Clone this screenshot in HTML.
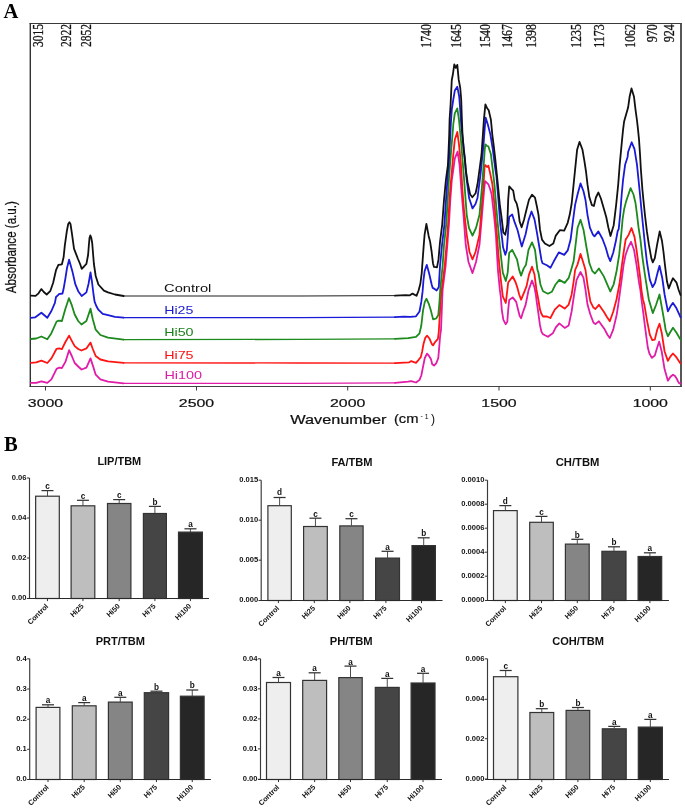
<!DOCTYPE html><html><head><meta charset="utf-8"><title>FTIR figure</title><style>html,body{margin:0;padding:0;background:#fff;overflow:hidden}svg{display:block;will-change:transform}</style></head><body>
<svg width="685" height="809" viewBox="0 0 685 809">
<rect width="685" height="809" fill="#fff"/>
<text x="3.4" y="18.1" font-size="20.6" font-weight="bold" text-anchor="start" fill="#000" font-family='"Liberation Serif", serif'>A</text>
<line x1="29.6" y1="23.5" x2="681.9" y2="23.5" stroke="#3a3a3a" stroke-width="1.1"/>
<line x1="29.6" y1="386.5" x2="681.9" y2="386.5" stroke="#444" stroke-width="1.15"/>
<line x1="30.3" y1="23" x2="30.3" y2="387" stroke="#333" stroke-width="1.4"/>
<line x1="681" y1="23" x2="681" y2="387.1" stroke="#454545" stroke-width="1.8"/>
<text x="0" y="0" font-size="15.4" font-weight="normal" text-anchor="start" fill="#111" font-family='"Liberation Serif", serif' stroke="#111" stroke-width="0.3" textLength="22.9" lengthAdjust="spacingAndGlyphs" transform="translate(43.3,47.0) rotate(-90)">3015</text>
<text x="0" y="0" font-size="15.4" font-weight="normal" text-anchor="start" fill="#111" font-family='"Liberation Serif", serif' stroke="#111" stroke-width="0.3" textLength="22.9" lengthAdjust="spacingAndGlyphs" transform="translate(70.9,47.0) rotate(-90)">2922</text>
<text x="0" y="0" font-size="15.4" font-weight="normal" text-anchor="start" fill="#111" font-family='"Liberation Serif", serif' stroke="#111" stroke-width="0.3" textLength="22.9" lengthAdjust="spacingAndGlyphs" transform="translate(91.3,47.0) rotate(-90)">2852</text>
<text x="0" y="0" font-size="15.4" font-weight="normal" text-anchor="start" fill="#111" font-family='"Liberation Serif", serif' stroke="#111" stroke-width="0.3" textLength="23.5" lengthAdjust="spacingAndGlyphs" transform="translate(430.6,47.7) rotate(-90)">1740</text>
<text x="0" y="0" font-size="15.4" font-weight="normal" text-anchor="start" fill="#111" font-family='"Liberation Serif", serif' stroke="#111" stroke-width="0.3" textLength="23.5" lengthAdjust="spacingAndGlyphs" transform="translate(460.8,47.7) rotate(-90)">1645</text>
<text x="0" y="0" font-size="15.4" font-weight="normal" text-anchor="start" fill="#111" font-family='"Liberation Serif", serif' stroke="#111" stroke-width="0.3" textLength="23.5" lengthAdjust="spacingAndGlyphs" transform="translate(490.4,47.7) rotate(-90)">1540</text>
<text x="0" y="0" font-size="15.4" font-weight="normal" text-anchor="start" fill="#111" font-family='"Liberation Serif", serif' stroke="#111" stroke-width="0.3" textLength="23.5" lengthAdjust="spacingAndGlyphs" transform="translate(512.3,47.7) rotate(-90)">1467</text>
<text x="0" y="0" font-size="15.4" font-weight="normal" text-anchor="start" fill="#111" font-family='"Liberation Serif", serif' stroke="#111" stroke-width="0.3" textLength="23.5" lengthAdjust="spacingAndGlyphs" transform="translate(536.4,47.7) rotate(-90)">1398</text>
<text x="0" y="0" font-size="15.4" font-weight="normal" text-anchor="start" fill="#111" font-family='"Liberation Serif", serif' stroke="#111" stroke-width="0.3" textLength="23.5" lengthAdjust="spacingAndGlyphs" transform="translate(580.9,47.7) rotate(-90)">1235</text>
<text x="0" y="0" font-size="15.4" font-weight="normal" text-anchor="start" fill="#111" font-family='"Liberation Serif", serif' stroke="#111" stroke-width="0.3" textLength="23.5" lengthAdjust="spacingAndGlyphs" transform="translate(604.1,47.7) rotate(-90)">1173</text>
<text x="0" y="0" font-size="15.4" font-weight="normal" text-anchor="start" fill="#111" font-family='"Liberation Serif", serif' stroke="#111" stroke-width="0.3" textLength="23.5" lengthAdjust="spacingAndGlyphs" transform="translate(634.8,47.7) rotate(-90)">1062</text>
<text x="0" y="0" font-size="15.4" font-weight="normal" text-anchor="start" fill="#111" font-family='"Liberation Serif", serif' stroke="#111" stroke-width="0.3" textLength="18.1" lengthAdjust="spacingAndGlyphs" transform="translate(656.7,42.3) rotate(-90)">970</text>
<text x="0" y="0" font-size="15.4" font-weight="normal" text-anchor="start" fill="#111" font-family='"Liberation Serif", serif' stroke="#111" stroke-width="0.3" textLength="18.1" lengthAdjust="spacingAndGlyphs" transform="translate(673.5,42.3) rotate(-90)">924</text>
<text x="0" y="0" font-size="14.2" font-weight="normal" text-anchor="start" fill="#111" font-family='"Liberation Sans", sans-serif' stroke="#111" stroke-width="0.25" textLength="92" lengthAdjust="spacingAndGlyphs" transform="translate(16.3,293.2) rotate(-90)">Absorbance (a.u.)</text>
<line x1="45.5" y1="386" x2="45.5" y2="390.5" stroke="#3a3a3a" stroke-width="1"/>
<text x="45.5" y="406.8" font-size="11.6" font-weight="normal" text-anchor="middle" fill="#111" font-family='"Liberation Sans", sans-serif' stroke="#111" stroke-width="0.2" textLength="35.3" lengthAdjust="spacingAndGlyphs">3000</text>
<line x1="196.5" y1="386" x2="196.5" y2="390.5" stroke="#3a3a3a" stroke-width="1"/>
<text x="196.5" y="406.8" font-size="11.6" font-weight="normal" text-anchor="middle" fill="#111" font-family='"Liberation Sans", sans-serif' stroke="#111" stroke-width="0.2" textLength="35.3" lengthAdjust="spacingAndGlyphs">2500</text>
<line x1="347.7" y1="386" x2="347.7" y2="390.5" stroke="#3a3a3a" stroke-width="1"/>
<text x="347.7" y="406.8" font-size="11.6" font-weight="normal" text-anchor="middle" fill="#111" font-family='"Liberation Sans", sans-serif' stroke="#111" stroke-width="0.2" textLength="35.3" lengthAdjust="spacingAndGlyphs">2000</text>
<line x1="499" y1="386" x2="499" y2="390.5" stroke="#3a3a3a" stroke-width="1"/>
<text x="499" y="406.8" font-size="11.6" font-weight="normal" text-anchor="middle" fill="#111" font-family='"Liberation Sans", sans-serif' stroke="#111" stroke-width="0.2" textLength="35.3" lengthAdjust="spacingAndGlyphs">1500</text>
<line x1="650.3" y1="386" x2="650.3" y2="390.5" stroke="#3a3a3a" stroke-width="1"/>
<text x="650.3" y="406.8" font-size="11.6" font-weight="normal" text-anchor="middle" fill="#111" font-family='"Liberation Sans", sans-serif' stroke="#111" stroke-width="0.2" textLength="35.3" lengthAdjust="spacingAndGlyphs">1000</text>
<text x="290.2" y="423.6" font-size="12.2" font-weight="normal" text-anchor="start" fill="#111" font-family='"Liberation Sans", sans-serif' stroke="#111" stroke-width="0.2" textLength="96.2" lengthAdjust="spacingAndGlyphs">Wavenumber</text>
<text x="393.9" y="423.3" font-size="12.2" font-weight="normal" text-anchor="start" fill="#111" font-family='"Liberation Sans", sans-serif' stroke="#111" stroke-width="0.2" textLength="24.6" lengthAdjust="spacingAndGlyphs">(cm</text>
<text x="420.6" y="417.8" font-size="7" font-weight="normal" text-anchor="start" fill="#111" font-family='"Liberation Sans", sans-serif'>-</text>
<text x="424.8" y="419.2" font-size="6.8" font-weight="normal" text-anchor="start" fill="#111" font-family='"Liberation Sans", sans-serif'>1</text>
<text x="431.0" y="423.3" font-size="12.2" font-weight="normal" text-anchor="start" fill="#111" font-family='"Liberation Sans", sans-serif'>)</text>
<polyline points="123.6,383.3 300.0,383.3 395.0,382.8" fill="none" stroke="#e01ca8" stroke-width="1.3" stroke-linejoin="round" stroke-linecap="round"/>
<polyline points="30.9,382.9 36.2,382.9 41.4,381.4 47.3,382.9 51.4,379.4 56.6,368.9 58.9,367.7 61.9,368.0 65.4,361.9 69.1,350.2 71.8,356.0 74.7,363.0 78.2,366.5 81.5,369.5 86.4,367.7 90.5,358.4 92.8,365.4 95.7,374.7 100.4,379.4 108.0,381.7 123.6,383.3" fill="none" stroke="#e01ca8" stroke-width="1.8" stroke-linejoin="round" stroke-linecap="round"/>
<polyline points="395.0,382.8 408.1,381.7 411.2,381.2 416.0,382.5 419.5,379.9 421.3,375.5 423.0,366.8 424.8,358.0 427.0,353.6 428.7,355.4 430.9,358.9 432.2,364.2 434.0,365.5 436.2,363.3 438.3,358.0 439.2,347.5 440.1,336.1 441.0,330.0 442.2,300.0 442.6,290.0 445.6,266.0 447.3,245.0 448.9,224.6 450.3,200.0 451.8,180.0 453.3,169.5 454.8,158.6 457.6,151.7 459.5,164.4 461.4,190.0 463.5,215.0 465.7,244.5 468.5,262.0 472.5,273.1 476.0,262.0 479.5,244.5 482.0,215.0 484.1,190.0 485.1,181.2 485.9,181.9 488.4,184.3 490.4,190.0 491.6,194.2 494.0,215.0 495.9,235.0 497.9,269.6 499.8,289.4 500.8,297.0 501.8,309.8 503.3,319.7 505.6,324.2 507.3,321.7 508.2,309.8 509.2,300.0 512.7,297.4 516.2,301.9 518.1,309.8 519.6,315.8 521.1,318.2 523.1,311.8 525.6,304.9 527.0,298.0 528.5,290.4 532.0,280.5 534.5,287.4 535.9,295.0 536.6,301.0 537.9,309.8 539.9,324.7 541.4,331.6 543.0,334.3 547.9,336.8 552.8,333.3 555.8,327.4 559.3,323.4 564.7,327.9 568.7,325.4 571.6,311.5 574.1,294.7 576.6,279.9 580.5,272.0 583.5,277.9 585.5,289.8 587.5,304.6 590.2,314.0 593.4,322.5 595.4,324.1 598.9,321.2 604.8,329.6 607.3,334.5 609.8,338.0 613.2,329.6 616.7,314.7 618.2,305.0 619.7,294.2 621.7,279.4 623.6,264.6 625.6,254.7 628.1,247.7 631.0,241.8 634.0,249.7 636.5,264.6 639.0,282.4 640.4,290.0 641.4,299.2 642.9,309.8 645.4,329.6 647.8,347.5 649.3,353.3 651.8,357.9 654.8,355.5 657.2,347.5 659.2,341.6 661.7,351.5 664.6,369.3 667.9,380.7 670.5,376.8 673.0,374.7 675.0,376.0 676.6,378.4 678.1,381.5 679.2,383.3 680.6,383.5" fill="none" stroke="#e01ca8" stroke-width="1.8" stroke-linejoin="round" stroke-linecap="round"/>
<polyline points="123.6,362.9 300.0,363.0 395.0,363.1" fill="none" stroke="#ff1414" stroke-width="1.3" stroke-linejoin="round" stroke-linecap="round"/>
<polyline points="30.9,362.8 36.2,362.4 41.4,360.7 47.3,363.0 51.4,358.4 56.6,348.8 58.9,348.4 61.9,349.2 65.4,342.0 69.1,335.6 71.8,340.8 74.7,346.1 78.2,349.0 81.5,350.5 86.4,348.4 90.5,342.6 92.8,349.0 95.7,356.0 100.4,359.5 108.0,361.3 123.6,362.9" fill="none" stroke="#ff1414" stroke-width="1.8" stroke-linejoin="round" stroke-linecap="round"/>
<polyline points="395.0,363.1 409.0,362.4 411.2,361.1 416.0,362.8 418.6,359.8 420.8,357.1 422.1,351.9 423.5,344.0 425.2,337.9 427.2,335.7 429.6,338.8 431.8,344.0 433.1,345.3 435.3,341.8 437.9,338.8 438.8,331.8 440.7,300.0 441.7,290.0 444.7,266.0 446.5,245.0 448.1,224.6 449.5,200.0 450.6,185.0 451.8,172.0 453.3,154.7 454.8,139.8 457.3,131.9 459.0,144.6 460.9,164.4 462.4,190.0 464.0,210.0 466.7,234.6 469.5,252.0 472.5,259.3 475.5,252.0 479.5,234.6 481.5,210.0 483.2,190.0 484.7,165.3 485.4,165.2 487.0,167.0 488.4,165.6 490.4,174.5 492.4,184.3 494.5,205.0 496.9,235.0 498.8,259.7 500.8,279.5 502.8,296.3 505.8,303.0 508.2,282.5 512.7,276.5 515.7,282.5 517.6,288.4 519.1,294.3 521.1,299.7 524.1,292.4 526.5,286.4 529.0,274.6 532.0,266.7 534.5,274.6 536.4,289.4 538.4,300.0 540.0,309.6 541.4,313.8 543.0,316.5 546.9,316.5 550.4,318.0 554.8,309.6 559.3,305.1 564.7,308.6 568.7,304.6 571.6,294.7 573.6,281.9 575.1,270.0 577.6,264.3 580.5,253.9 583.5,263.3 585.5,270.0 587.5,284.8 590.4,301.7 593.4,307.6 595.4,309.0 598.9,304.8 603.8,311.8 606.8,316.7 609.8,321.2 613.2,311.8 616.5,299.5 618.7,288.0 619.7,282.4 621.7,266.5 623.6,252.7 625.6,239.8 628.6,234.9 631.5,228.0 634.5,236.9 636.5,249.7 638.5,264.6 640.4,279.4 641.4,290.0 642.9,299.2 644.4,304.8 646.9,319.8 649.8,334.7 652.3,340.1 654.8,339.6 657.2,329.8 659.5,323.8 661.7,332.7 664.6,351.5 667.9,360.9 670.5,356.4 673.0,353.5 676.5,357.4 680.5,363.4" fill="none" stroke="#ff1414" stroke-width="1.8" stroke-linejoin="round" stroke-linecap="round"/>
<polyline points="123.6,339.7 300.0,339.4 395.0,338.8" fill="none" stroke="#1c8a1c" stroke-width="1.3" stroke-linejoin="round" stroke-linecap="round"/>
<polyline points="30.9,339.0 36.2,338.5 41.4,336.5 47.3,339.3 51.4,333.2 56.6,321.5 58.9,320.6 61.9,321.0 65.4,308.7 68.9,298.2 71.8,305.2 74.7,314.5 78.2,321.0 81.5,324.5 86.4,321.0 90.5,308.7 92.8,319.2 95.7,329.7 100.4,335.0 108.0,337.6 123.6,339.7" fill="none" stroke="#1c8a1c" stroke-width="1.8" stroke-linejoin="round" stroke-linecap="round"/>
<polyline points="395.0,338.8 408.1,338.2 416.0,336.9 419.5,333.4 421.3,325.5 423.0,310.6 424.8,301.9 426.5,298.8 428.7,303.6 430.9,310.6 433.1,319.4 436.2,318.5 438.3,315.0 439.2,305.0 439.6,300.0 440.2,290.0 442.6,266.0 444.0,245.0 446.2,224.6 447.7,200.0 448.9,180.0 450.0,165.0 451.2,150.0 452.5,135.0 453.3,124.2 454.8,113.4 457.3,108.4 459.0,119.9 460.9,139.7 462.9,164.4 464.9,190.0 466.7,214.8 469.0,228.0 472.5,235.6 476.0,228.0 479.5,214.8 481.7,190.0 484.1,159.4 484.7,150.0 485.4,144.5 487.0,146.0 488.4,146.4 490.9,154.3 492.8,170.2 494.5,185.0 496.5,210.0 498.8,235.0 500.8,254.8 502.8,272.6 505.8,281.0 507.7,272.6 509.2,252.8 512.2,249.8 514.7,254.8 517.1,259.7 519.1,269.6 521.1,275.6 523.6,268.6 526.0,264.7 528.5,249.8 532.0,242.4 535.0,249.8 537.4,269.6 538.5,273.0 540.5,284.8 543.0,291.3 547.9,293.7 551.8,291.8 555.3,284.8 559.3,279.9 564.7,282.9 568.7,277.9 571.1,270.0 573.6,261.3 575.6,244.5 577.6,227.7 580.5,219.8 583.5,229.7 586.5,247.5 589.4,263.3 592.4,271.2 595.0,273.5 598.9,268.5 603.8,276.4 606.8,283.4 610.3,291.5 613.7,284.3 616.7,270.5 619.2,254.7 621.2,234.9 622.6,219.2 624.1,209.3 626.1,201.4 628.1,195.5 630.6,188.1 633.5,194.5 635.5,203.0 637.0,214.3 638.5,227.2 640.4,239.3 642.4,257.0 644.9,274.7 648.8,299.4 652.8,313.1 656.0,305.0 659.5,294.5 662.2,309.3 664.6,323.1 665.6,329.8 667.9,336.2 670.5,331.7 673.0,327.8 676.5,332.7 680.5,339.6" fill="none" stroke="#1c8a1c" stroke-width="1.8" stroke-linejoin="round" stroke-linecap="round"/>
<polyline points="123.6,317.7 300.0,317.6 395.0,317.2" fill="none" stroke="#1a1ad8" stroke-width="1.3" stroke-linejoin="round" stroke-linecap="round"/>
<polyline points="30.9,317.8 35.0,317.4 41.4,312.8 47.3,317.8 51.4,311.0 54.9,302.9 56.0,297.0 57.8,295.3 58.9,294.1 62.5,293.5 63.6,288.8 65.4,278.4 67.0,268.0 69.1,259.7 72.4,271.4 75.3,284.2 78.2,291.2 81.7,296.0 86.4,292.4 88.5,284.0 90.5,272.5 92.0,282.0 93.4,293.5 94.6,301.7 96.3,306.0 98.1,309.3 102.7,313.9 108.0,315.1 115.0,316.8 123.6,317.7" fill="none" stroke="#1a1ad8" stroke-width="1.8" stroke-linejoin="round" stroke-linecap="round"/>
<polyline points="395.0,317.2 403.8,316.6 410.3,316.8 416.0,316.3 419.5,311.5 421.3,301.9 422.6,291.4 423.5,280.0 424.6,271.3 426.8,264.9 429.1,273.3 431.6,284.2 432.7,287.9 434.0,288.6 436.6,290.5 438.8,287.0 440.0,266.0 442.0,245.0 444.4,224.6 446.0,200.0 447.4,180.0 449.0,160.0 450.3,135.0 450.8,124.2 451.8,109.4 453.3,99.5 454.8,90.6 457.3,86.7 459.2,96.5 460.2,109.4 461.2,124.2 462.9,139.7 464.9,159.4 466.7,180.0 469.1,198.0 472.5,208.4 475.5,204.0 477.5,198.0 480.5,174.5 483.5,144.8 485.0,125.0 485.7,117.7 487.9,124.7 490.4,134.6 492.8,149.4 495.3,169.2 496.4,176.0 498.4,199.6 500.3,224.3 502.3,240.2 503.0,247.0 505.3,254.8 506.8,250.0 507.7,238.0 508.5,225.0 509.2,216.9 512.2,214.5 514.7,222.4 517.6,230.3 520.1,240.2 521.8,246.5 525.6,234.2 528.5,220.4 531.5,211.5 534.5,219.4 536.9,232.3 538.9,244.5 541.4,259.7 542.5,263.3 546.9,265.3 550.4,267.8 553.8,261.3 558.8,252.4 564.2,254.9 567.7,250.4 570.6,239.6 573.1,219.8 575.1,204.9 577.6,194.3 580.5,183.4 583.5,191.3 585.5,200.0 587.5,214.8 589.9,227.7 592.9,234.6 594.5,236.4 598.4,231.4 602.4,238.8 605.8,247.7 608.3,256.7 610.3,261.1 613.2,252.7 615.7,241.8 617.7,231.0 618.7,229.1 620.2,214.3 621.7,194.5 623.1,179.7 625.1,164.8 627.6,156.9 628.1,152.0 629.1,149.2 631.7,142.3 634.5,149.2 637.0,164.8 638.5,179.7 640.0,194.5 641.4,209.3 642.9,224.5 644.9,244.2 646.9,262.0 649.8,279.6 652.6,287.1 655.0,283.0 657.5,273.0 659.5,265.8 662.2,277.7 664.6,294.5 667.9,311.3 670.5,306.3 673.0,302.9 676.5,308.3 680.5,317.2" fill="none" stroke="#1a1ad8" stroke-width="1.8" stroke-linejoin="round" stroke-linecap="round"/>
<polyline points="123.6,296.0 200.0,296.0 300.0,296.0 395.0,295.6" fill="none" stroke="#111111" stroke-width="0.95" stroke-linejoin="round" stroke-linecap="round"/>
<polyline points="30.9,295.6 35.6,295.9 38.5,293.3 41.4,289.1 43.8,292.0 46.7,294.5 50.2,291.2 53.1,283.0 56.0,270.2 58.4,264.9 61.9,264.3 63.6,257.3 64.8,245.7 66.8,231.3 68.2,224.0 69.4,222.3 70.5,224.0 71.9,233.4 74.0,248.7 76.0,253.8 78.0,259.0 80.1,264.0 81.7,268.8 84.0,266.5 86.4,263.8 88.1,255.0 88.8,246.0 89.5,238.0 90.3,235.4 91.2,237.5 92.2,243.0 93.9,264.0 95.7,276.0 98.4,284.5 103.9,290.6 108.0,292.4 115.0,294.5 123.6,296.0" fill="none" stroke="#111111" stroke-width="1.8" stroke-linejoin="round" stroke-linecap="round"/>
<polyline points="395.0,295.6 405.5,295.1 409.9,295.3 412.5,293.6 416.5,295.8 418.6,290.5 420.4,283.5 421.7,273.3 422.7,259.4 423.7,245.6 424.6,234.7 426.4,223.8 428.6,235.7 430.1,241.6 431.6,251.5 433.0,263.4 434.0,266.9 437.0,267.4 438.5,259.4 440.0,242.0 442.2,224.6 444.0,200.0 445.9,180.0 447.9,165.0 448.6,150.0 449.2,135.0 449.6,119.3 450.6,104.5 451.3,89.6 451.8,79.7 452.8,74.8 454.3,64.4 455.8,67.9 457.3,64.9 458.7,79.7 460.2,87.6 461.2,99.5 461.7,114.3 462.5,135.0 463.7,150.0 464.9,159.4 465.7,169.5 467.6,182.4 470.1,194.2 472.3,197.2 475.6,193.2 477.5,184.3 479.5,169.5 481.5,154.7 482.9,134.6 483.9,119.7 485.4,104.4 487.0,108.0 488.7,110.3 490.9,119.7 492.3,134.6 493.8,146.4 495.3,159.3 496.8,174.1 497.9,184.8 499.8,204.6 501.8,219.4 503.3,232.3 505.3,234.7 507.3,224.3 508.2,199.6 509.2,186.3 511.2,188.7 513.2,190.7 514.7,199.6 516.7,203.6 518.1,209.5 519.6,221.4 521.6,227.3 524.1,219.4 526.5,209.5 529.0,199.6 532.0,194.7 535.0,197.6 536.9,206.5 538.5,214.8 540.0,229.7 542.0,239.6 544.9,243.5 549.4,246.0 553.3,243.5 555.8,235.6 559.8,230.2 564.2,230.7 567.7,222.8 569.7,214.8 571.6,204.0 572.6,194.3 574.1,179.5 575.6,164.6 577.1,149.8 579.5,141.9 582.5,149.8 584.5,161.7 586.0,171.5 587.5,184.4 589.4,197.3 591.9,205.2 593.9,206.0 595.9,197.5 598.4,192.5 600.9,198.5 603.8,208.4 606.3,217.3 608.3,227.2 610.5,236.0 613.7,225.2 616.2,204.4 618.2,184.6 619.7,164.8 620.7,154.1 622.1,139.3 623.1,129.4 624.1,121.5 626.1,114.6 628.1,107.6 629.6,96.8 631.5,88.4 634.0,96.8 635.5,109.6 637.0,120.5 638.0,129.4 639.0,139.3 640.0,154.1 640.9,169.8 642.4,189.6 643.4,199.8 644.9,214.6 646.9,231.4 648.8,244.2 651.3,258.1 652.8,262.4 654.8,258.1 657.2,244.2 659.7,231.4 662.0,241.0 663.5,252.0 664.6,262.0 667.0,281.6 668.8,288.5 671.0,282.6 673.0,278.2 676.5,282.6 678.5,289.5 680.5,295.0" fill="none" stroke="#111111" stroke-width="1.8" stroke-linejoin="round" stroke-linecap="round"/>
<text x="164.1" y="292.3" font-size="10.6" font-weight="normal" text-anchor="start" fill="#111" font-family='"Liberation Sans", sans-serif' textLength="47.3" lengthAdjust="spacingAndGlyphs">Control</text>
<text x="164.2" y="313.8" font-size="10.6" font-weight="normal" text-anchor="start" fill="#1a1ad0" font-family='"Liberation Sans", sans-serif' textLength="29.2" lengthAdjust="spacingAndGlyphs">Hi25</text>
<text x="164.2" y="335.7" font-size="10.6" font-weight="normal" text-anchor="start" fill="#1a7f1a" font-family='"Liberation Sans", sans-serif' textLength="29.4" lengthAdjust="spacingAndGlyphs">Hi50</text>
<text x="164.2" y="358.7" font-size="10.6" font-weight="normal" text-anchor="start" fill="#ff1010" font-family='"Liberation Sans", sans-serif' textLength="29.4" lengthAdjust="spacingAndGlyphs">Hi75</text>
<text x="164.4" y="379" font-size="10.6" font-weight="normal" text-anchor="start" fill="#dc1ca5" font-family='"Liberation Sans", sans-serif' textLength="37.7" lengthAdjust="spacingAndGlyphs">Hi100</text>
<text x="4.0" y="451.3" font-size="20.6" font-weight="bold" text-anchor="start" fill="#000" font-family='"Liberation Serif", serif'>B</text>
<text x="97.4" y="464.6" font-size="11" font-weight="bold" text-anchor="start" fill="#111" font-family='"Liberation Sans", sans-serif' textLength="43.8" lengthAdjust="spacingAndGlyphs">LIP/TBM</text>
<rect x="35.65" y="496.20" width="23.65" height="102.30" fill="#eeeeee" stroke="#333" stroke-width="1.2"/>
<line x1="47.47" y1="496.10" x2="47.47" y2="490.60" stroke="#444" stroke-width="0.95"/>
<line x1="41.47" y1="490.60" x2="53.47" y2="490.60" stroke="#333" stroke-width="1.25"/>
<text x="47.47" y="488.9" font-size="8.2" font-weight="bold" text-anchor="middle" fill="#111" font-family='"Liberation Sans", sans-serif'>c</text>
<line x1="47.47" y1="598.50" x2="47.47" y2="601.10" stroke="#333" stroke-width="1"/>
<text x="0" y="0" font-size="7.3" font-weight="bold" text-anchor="end" fill="#111" font-family='"Liberation Sans", sans-serif' transform="translate(48.77,606.70) rotate(-45)">Control</text>
<rect x="71.10" y="505.80" width="23.70" height="92.70" fill="#bebebe" stroke="#333" stroke-width="1.2"/>
<line x1="82.95" y1="505.70" x2="82.95" y2="500.30" stroke="#444" stroke-width="0.95"/>
<line x1="76.95" y1="500.30" x2="88.95" y2="500.30" stroke="#333" stroke-width="1.25"/>
<text x="82.95" y="498.5" font-size="8.2" font-weight="bold" text-anchor="middle" fill="#111" font-family='"Liberation Sans", sans-serif'>c</text>
<line x1="82.95" y1="598.50" x2="82.95" y2="601.10" stroke="#333" stroke-width="1"/>
<text x="0" y="0" font-size="7.3" font-weight="bold" text-anchor="end" fill="#111" font-family='"Liberation Sans", sans-serif' transform="translate(84.25,606.70) rotate(-45)">Hi25</text>
<rect x="107.50" y="503.50" width="23.40" height="95.00" fill="#858585" stroke="#333" stroke-width="1.2"/>
<line x1="119.20" y1="503.40" x2="119.20" y2="499.60" stroke="#444" stroke-width="0.95"/>
<line x1="113.20" y1="499.60" x2="125.20" y2="499.60" stroke="#333" stroke-width="1.25"/>
<text x="119.20" y="497.7" font-size="8.2" font-weight="bold" text-anchor="middle" fill="#111" font-family='"Liberation Sans", sans-serif'>c</text>
<line x1="119.20" y1="598.50" x2="119.20" y2="601.10" stroke="#333" stroke-width="1"/>
<text x="0" y="0" font-size="7.3" font-weight="bold" text-anchor="end" fill="#111" font-family='"Liberation Sans", sans-serif' transform="translate(120.50,606.70) rotate(-45)">Hi50</text>
<rect x="143.40" y="513.50" width="23.00" height="85.00" fill="#454545" stroke="#333" stroke-width="1.2"/>
<line x1="154.90" y1="513.40" x2="154.90" y2="506.40" stroke="#444" stroke-width="0.95"/>
<line x1="148.90" y1="506.40" x2="160.90" y2="506.40" stroke="#333" stroke-width="1.25"/>
<text x="154.90" y="504.8" font-size="8.2" font-weight="bold" text-anchor="middle" fill="#111" font-family='"Liberation Sans", sans-serif'>b</text>
<line x1="154.90" y1="598.50" x2="154.90" y2="601.10" stroke="#333" stroke-width="1"/>
<text x="0" y="0" font-size="7.3" font-weight="bold" text-anchor="end" fill="#111" font-family='"Liberation Sans", sans-serif' transform="translate(156.20,606.70) rotate(-45)">Hi75</text>
<rect x="178.50" y="532.10" width="23.90" height="66.40" fill="#262626" stroke="#333" stroke-width="1.2"/>
<line x1="190.45" y1="532.00" x2="190.45" y2="528.80" stroke="#444" stroke-width="0.95"/>
<line x1="184.45" y1="528.80" x2="196.45" y2="528.80" stroke="#333" stroke-width="1.25"/>
<text x="190.45" y="527.1" font-size="8.2" font-weight="bold" text-anchor="middle" fill="#111" font-family='"Liberation Sans", sans-serif'>a</text>
<line x1="190.45" y1="598.50" x2="190.45" y2="601.10" stroke="#333" stroke-width="1"/>
<text x="0" y="0" font-size="7.3" font-weight="bold" text-anchor="end" fill="#111" font-family='"Liberation Sans", sans-serif' transform="translate(191.75,606.70) rotate(-45)">Hi100</text>
<line x1="29.50" y1="478.00" x2="29.50" y2="598.50" stroke="#3a3a3a" stroke-width="1.15"/>
<line x1="27.10" y1="598.50" x2="209.00" y2="598.50" stroke="#2a2a2a" stroke-width="1.15"/>
<line x1="26.90" y1="478.00" x2="29.50" y2="478.00" stroke="#333" stroke-width="1"/>
<text x="26.50" y="479.90" font-size="7.6" font-weight="bold" text-anchor="end" fill="#111" font-family='"Liberation Sans", sans-serif'>0.06</text>
<line x1="26.90" y1="518.00" x2="29.50" y2="518.00" stroke="#333" stroke-width="1"/>
<text x="26.50" y="519.90" font-size="7.6" font-weight="bold" text-anchor="end" fill="#111" font-family='"Liberation Sans", sans-serif'>0.04</text>
<line x1="26.90" y1="558.00" x2="29.50" y2="558.00" stroke="#333" stroke-width="1"/>
<text x="26.50" y="559.90" font-size="7.6" font-weight="bold" text-anchor="end" fill="#111" font-family='"Liberation Sans", sans-serif'>0.02</text>
<line x1="26.90" y1="598.50" x2="29.50" y2="598.50" stroke="#333" stroke-width="1"/>
<text x="26.50" y="600.40" font-size="7.6" font-weight="bold" text-anchor="end" fill="#111" font-family='"Liberation Sans", sans-serif'>0.00</text>
<text x="331.4" y="466.0" font-size="11" font-weight="bold" text-anchor="start" fill="#111" font-family='"Liberation Sans", sans-serif' textLength="41.2" lengthAdjust="spacingAndGlyphs">FA/TBM</text>
<rect x="267.90" y="505.70" width="23.40" height="94.80" fill="#eeeeee" stroke="#333" stroke-width="1.2"/>
<line x1="279.60" y1="505.60" x2="279.60" y2="497.50" stroke="#444" stroke-width="0.95"/>
<line x1="273.60" y1="497.50" x2="285.60" y2="497.50" stroke="#333" stroke-width="1.25"/>
<text x="279.60" y="495.4" font-size="8.2" font-weight="bold" text-anchor="middle" fill="#111" font-family='"Liberation Sans", sans-serif'>d</text>
<line x1="278.40" y1="600.50" x2="278.40" y2="603.10" stroke="#333" stroke-width="1"/>
<text x="0" y="0" font-size="7.3" font-weight="bold" text-anchor="end" fill="#111" font-family='"Liberation Sans", sans-serif' transform="translate(279.70,608.70) rotate(-45)">Control</text>
<rect x="303.60" y="526.50" width="23.70" height="74.00" fill="#bebebe" stroke="#333" stroke-width="1.2"/>
<line x1="315.45" y1="526.40" x2="315.45" y2="518.20" stroke="#444" stroke-width="0.95"/>
<line x1="309.45" y1="518.20" x2="321.45" y2="518.20" stroke="#333" stroke-width="1.25"/>
<text x="315.45" y="517.0" font-size="8.2" font-weight="bold" text-anchor="middle" fill="#111" font-family='"Liberation Sans", sans-serif'>c</text>
<line x1="314.30" y1="600.50" x2="314.30" y2="603.10" stroke="#333" stroke-width="1"/>
<text x="0" y="0" font-size="7.3" font-weight="bold" text-anchor="end" fill="#111" font-family='"Liberation Sans", sans-serif' transform="translate(315.60,608.70) rotate(-45)">Hi25</text>
<rect x="339.80" y="525.90" width="23.30" height="74.60" fill="#858585" stroke="#333" stroke-width="1.2"/>
<line x1="351.45" y1="525.80" x2="351.45" y2="518.70" stroke="#444" stroke-width="0.95"/>
<line x1="345.45" y1="518.70" x2="357.45" y2="518.70" stroke="#333" stroke-width="1.25"/>
<text x="351.45" y="517.2" font-size="8.2" font-weight="bold" text-anchor="middle" fill="#111" font-family='"Liberation Sans", sans-serif'>c</text>
<line x1="349.90" y1="600.50" x2="349.90" y2="603.10" stroke="#333" stroke-width="1"/>
<text x="0" y="0" font-size="7.3" font-weight="bold" text-anchor="end" fill="#111" font-family='"Liberation Sans", sans-serif' transform="translate(351.20,608.70) rotate(-45)">Hi50</text>
<rect x="375.60" y="558.10" width="23.90" height="42.40" fill="#454545" stroke="#333" stroke-width="1.2"/>
<line x1="387.55" y1="558.00" x2="387.55" y2="551.30" stroke="#444" stroke-width="0.95"/>
<line x1="381.55" y1="551.30" x2="393.55" y2="551.30" stroke="#333" stroke-width="1.25"/>
<text x="387.55" y="549.9" font-size="8.2" font-weight="bold" text-anchor="middle" fill="#111" font-family='"Liberation Sans", sans-serif'>a</text>
<line x1="385.90" y1="600.50" x2="385.90" y2="603.10" stroke="#333" stroke-width="1"/>
<text x="0" y="0" font-size="7.3" font-weight="bold" text-anchor="end" fill="#111" font-family='"Liberation Sans", sans-serif' transform="translate(387.20,608.70) rotate(-45)">Hi75</text>
<rect x="412.00" y="545.60" width="23.40" height="54.90" fill="#262626" stroke="#333" stroke-width="1.2"/>
<line x1="423.70" y1="545.50" x2="423.70" y2="537.80" stroke="#444" stroke-width="0.95"/>
<line x1="417.70" y1="537.80" x2="429.70" y2="537.80" stroke="#333" stroke-width="1.25"/>
<text x="423.70" y="536.4" font-size="8.2" font-weight="bold" text-anchor="middle" fill="#111" font-family='"Liberation Sans", sans-serif'>b</text>
<line x1="421.50" y1="600.50" x2="421.50" y2="603.10" stroke="#333" stroke-width="1"/>
<text x="0" y="0" font-size="7.3" font-weight="bold" text-anchor="end" fill="#111" font-family='"Liberation Sans", sans-serif' transform="translate(422.80,608.70) rotate(-45)">Hi100</text>
<line x1="261.20" y1="480.20" x2="261.20" y2="600.50" stroke="#3a3a3a" stroke-width="1.15"/>
<line x1="258.80" y1="600.50" x2="442.50" y2="600.50" stroke="#2a2a2a" stroke-width="1.15"/>
<line x1="258.60" y1="480.20" x2="261.20" y2="480.20" stroke="#333" stroke-width="1"/>
<text x="258.20" y="482.10" font-size="7.6" font-weight="bold" text-anchor="end" fill="#111" font-family='"Liberation Sans", sans-serif'>0.015</text>
<line x1="258.60" y1="520.20" x2="261.20" y2="520.20" stroke="#333" stroke-width="1"/>
<text x="258.20" y="522.10" font-size="7.6" font-weight="bold" text-anchor="end" fill="#111" font-family='"Liberation Sans", sans-serif'>0.010</text>
<line x1="258.60" y1="560.20" x2="261.20" y2="560.20" stroke="#333" stroke-width="1"/>
<text x="258.20" y="562.10" font-size="7.6" font-weight="bold" text-anchor="end" fill="#111" font-family='"Liberation Sans", sans-serif'>0.005</text>
<line x1="258.60" y1="600.50" x2="261.20" y2="600.50" stroke="#333" stroke-width="1"/>
<text x="258.20" y="602.40" font-size="7.6" font-weight="bold" text-anchor="end" fill="#111" font-family='"Liberation Sans", sans-serif'>0.000</text>
<text x="555.7" y="465.7" font-size="11" font-weight="bold" text-anchor="start" fill="#111" font-family='"Liberation Sans", sans-serif' textLength="43.7" lengthAdjust="spacingAndGlyphs">CH/TBM</text>
<rect x="493.50" y="510.60" width="23.70" height="89.90" fill="#eeeeee" stroke="#333" stroke-width="1.2"/>
<line x1="505.35" y1="510.50" x2="505.35" y2="505.60" stroke="#444" stroke-width="0.95"/>
<line x1="499.35" y1="505.60" x2="511.35" y2="505.60" stroke="#333" stroke-width="1.25"/>
<text x="505.35" y="503.6" font-size="8.2" font-weight="bold" text-anchor="middle" fill="#111" font-family='"Liberation Sans", sans-serif'>d</text>
<line x1="505.35" y1="600.50" x2="505.35" y2="603.10" stroke="#333" stroke-width="1"/>
<text x="0" y="0" font-size="7.3" font-weight="bold" text-anchor="end" fill="#111" font-family='"Liberation Sans", sans-serif' transform="translate(506.65,608.70) rotate(-45)">Control</text>
<rect x="529.70" y="522.30" width="23.60" height="78.20" fill="#bebebe" stroke="#333" stroke-width="1.2"/>
<line x1="541.50" y1="522.20" x2="541.50" y2="516.40" stroke="#444" stroke-width="0.95"/>
<line x1="535.50" y1="516.40" x2="547.50" y2="516.40" stroke="#333" stroke-width="1.25"/>
<text x="541.50" y="515.0" font-size="8.2" font-weight="bold" text-anchor="middle" fill="#111" font-family='"Liberation Sans", sans-serif'>c</text>
<line x1="541.50" y1="600.50" x2="541.50" y2="603.10" stroke="#333" stroke-width="1"/>
<text x="0" y="0" font-size="7.3" font-weight="bold" text-anchor="end" fill="#111" font-family='"Liberation Sans", sans-serif' transform="translate(542.80,608.70) rotate(-45)">Hi25</text>
<rect x="565.40" y="544.10" width="23.80" height="56.40" fill="#858585" stroke="#333" stroke-width="1.2"/>
<line x1="577.30" y1="544.00" x2="577.30" y2="539.30" stroke="#444" stroke-width="0.95"/>
<line x1="571.30" y1="539.30" x2="583.30" y2="539.30" stroke="#333" stroke-width="1.25"/>
<text x="577.30" y="537.5" font-size="8.2" font-weight="bold" text-anchor="middle" fill="#111" font-family='"Liberation Sans", sans-serif'>b</text>
<line x1="577.30" y1="600.50" x2="577.30" y2="603.10" stroke="#333" stroke-width="1"/>
<text x="0" y="0" font-size="7.3" font-weight="bold" text-anchor="end" fill="#111" font-family='"Liberation Sans", sans-serif' transform="translate(578.60,608.70) rotate(-45)">Hi50</text>
<rect x="601.90" y="551.30" width="24.10" height="49.20" fill="#454545" stroke="#333" stroke-width="1.2"/>
<line x1="613.95" y1="551.20" x2="613.95" y2="546.80" stroke="#444" stroke-width="0.95"/>
<line x1="607.95" y1="546.80" x2="619.95" y2="546.80" stroke="#333" stroke-width="1.25"/>
<text x="613.95" y="545.4" font-size="8.2" font-weight="bold" text-anchor="middle" fill="#111" font-family='"Liberation Sans", sans-serif'>b</text>
<line x1="613.95" y1="600.50" x2="613.95" y2="603.10" stroke="#333" stroke-width="1"/>
<text x="0" y="0" font-size="7.3" font-weight="bold" text-anchor="end" fill="#111" font-family='"Liberation Sans", sans-serif' transform="translate(615.25,608.70) rotate(-45)">Hi75</text>
<rect x="638.10" y="556.50" width="23.60" height="44.00" fill="#262626" stroke="#333" stroke-width="1.2"/>
<line x1="649.90" y1="556.40" x2="649.90" y2="552.80" stroke="#444" stroke-width="0.95"/>
<line x1="643.90" y1="552.80" x2="655.90" y2="552.80" stroke="#333" stroke-width="1.25"/>
<text x="649.90" y="551.0" font-size="8.2" font-weight="bold" text-anchor="middle" fill="#111" font-family='"Liberation Sans", sans-serif'>a</text>
<line x1="649.90" y1="600.50" x2="649.90" y2="603.10" stroke="#333" stroke-width="1"/>
<text x="0" y="0" font-size="7.3" font-weight="bold" text-anchor="end" fill="#111" font-family='"Liberation Sans", sans-serif' transform="translate(651.20,608.70) rotate(-45)">Hi100</text>
<line x1="487.50" y1="480.20" x2="487.50" y2="600.50" stroke="#3a3a3a" stroke-width="1.15"/>
<line x1="485.10" y1="600.50" x2="668.90" y2="600.50" stroke="#2a2a2a" stroke-width="1.15"/>
<line x1="484.90" y1="480.20" x2="487.50" y2="480.20" stroke="#333" stroke-width="1"/>
<text x="484.50" y="482.10" font-size="7.6" font-weight="bold" text-anchor="end" fill="#111" font-family='"Liberation Sans", sans-serif'>0.0010</text>
<line x1="484.90" y1="504.20" x2="487.50" y2="504.20" stroke="#333" stroke-width="1"/>
<text x="484.50" y="506.10" font-size="7.6" font-weight="bold" text-anchor="end" fill="#111" font-family='"Liberation Sans", sans-serif'>0.0008</text>
<line x1="484.90" y1="528.20" x2="487.50" y2="528.20" stroke="#333" stroke-width="1"/>
<text x="484.50" y="530.10" font-size="7.6" font-weight="bold" text-anchor="end" fill="#111" font-family='"Liberation Sans", sans-serif'>0.0006</text>
<line x1="484.90" y1="552.20" x2="487.50" y2="552.20" stroke="#333" stroke-width="1"/>
<text x="484.50" y="554.10" font-size="7.6" font-weight="bold" text-anchor="end" fill="#111" font-family='"Liberation Sans", sans-serif'>0.0004</text>
<line x1="484.90" y1="576.20" x2="487.50" y2="576.20" stroke="#333" stroke-width="1"/>
<text x="484.50" y="578.10" font-size="7.6" font-weight="bold" text-anchor="end" fill="#111" font-family='"Liberation Sans", sans-serif'>0.0002</text>
<line x1="484.90" y1="600.50" x2="487.50" y2="600.50" stroke="#333" stroke-width="1"/>
<text x="484.50" y="602.40" font-size="7.6" font-weight="bold" text-anchor="end" fill="#111" font-family='"Liberation Sans", sans-serif'>0.0000</text>
<text x="95.7" y="645.2" font-size="11" font-weight="bold" text-anchor="start" fill="#111" font-family='"Liberation Sans", sans-serif' textLength="49.2" lengthAdjust="spacingAndGlyphs">PRT/TBM</text>
<rect x="36.10" y="707.40" width="23.80" height="72.10" fill="#eeeeee" stroke="#333" stroke-width="1.2"/>
<line x1="48.00" y1="707.30" x2="48.00" y2="704.80" stroke="#444" stroke-width="0.95"/>
<line x1="42.00" y1="704.80" x2="54.00" y2="704.80" stroke="#333" stroke-width="1.25"/>
<text x="48.00" y="703.1" font-size="8.2" font-weight="bold" text-anchor="middle" fill="#111" font-family='"Liberation Sans", sans-serif'>a</text>
<line x1="48.00" y1="779.50" x2="48.00" y2="782.10" stroke="#333" stroke-width="1"/>
<text x="0" y="0" font-size="7.3" font-weight="bold" text-anchor="end" fill="#111" font-family='"Liberation Sans", sans-serif' transform="translate(49.30,787.70) rotate(-45)">Control</text>
<rect x="72.30" y="705.80" width="23.80" height="73.70" fill="#bebebe" stroke="#333" stroke-width="1.2"/>
<line x1="84.20" y1="705.70" x2="84.20" y2="702.60" stroke="#444" stroke-width="0.95"/>
<line x1="78.20" y1="702.60" x2="90.20" y2="702.60" stroke="#333" stroke-width="1.25"/>
<text x="84.20" y="700.8" font-size="8.2" font-weight="bold" text-anchor="middle" fill="#111" font-family='"Liberation Sans", sans-serif'>a</text>
<line x1="84.20" y1="779.50" x2="84.20" y2="782.10" stroke="#333" stroke-width="1"/>
<text x="0" y="0" font-size="7.3" font-weight="bold" text-anchor="end" fill="#111" font-family='"Liberation Sans", sans-serif' transform="translate(85.50,787.70) rotate(-45)">Hi25</text>
<rect x="108.40" y="702.10" width="23.80" height="77.40" fill="#858585" stroke="#333" stroke-width="1.2"/>
<line x1="120.30" y1="702.00" x2="120.30" y2="697.30" stroke="#444" stroke-width="0.95"/>
<line x1="114.30" y1="697.30" x2="126.30" y2="697.30" stroke="#333" stroke-width="1.25"/>
<text x="120.30" y="696.1" font-size="8.2" font-weight="bold" text-anchor="middle" fill="#111" font-family='"Liberation Sans", sans-serif'>a</text>
<line x1="120.30" y1="779.50" x2="120.30" y2="782.10" stroke="#333" stroke-width="1"/>
<text x="0" y="0" font-size="7.3" font-weight="bold" text-anchor="end" fill="#111" font-family='"Liberation Sans", sans-serif' transform="translate(121.60,787.70) rotate(-45)">Hi50</text>
<rect x="144.30" y="692.70" width="24.30" height="86.80" fill="#454545" stroke="#333" stroke-width="1.2"/>
<line x1="156.45" y1="692.60" x2="156.45" y2="691.20" stroke="#444" stroke-width="0.95"/>
<line x1="150.45" y1="691.20" x2="162.45" y2="691.20" stroke="#333" stroke-width="1.25"/>
<text x="156.45" y="690.0" font-size="8.2" font-weight="bold" text-anchor="middle" fill="#111" font-family='"Liberation Sans", sans-serif'>b</text>
<line x1="156.45" y1="779.50" x2="156.45" y2="782.10" stroke="#333" stroke-width="1"/>
<text x="0" y="0" font-size="7.3" font-weight="bold" text-anchor="end" fill="#111" font-family='"Liberation Sans", sans-serif' transform="translate(157.75,787.70) rotate(-45)">Hi75</text>
<rect x="180.40" y="696.20" width="23.70" height="83.30" fill="#262626" stroke="#333" stroke-width="1.2"/>
<line x1="192.25" y1="696.10" x2="192.25" y2="690.00" stroke="#444" stroke-width="0.95"/>
<line x1="186.25" y1="690.00" x2="198.25" y2="690.00" stroke="#333" stroke-width="1.25"/>
<text x="192.25" y="688.2" font-size="8.2" font-weight="bold" text-anchor="middle" fill="#111" font-family='"Liberation Sans", sans-serif'>b</text>
<line x1="192.25" y1="779.50" x2="192.25" y2="782.10" stroke="#333" stroke-width="1"/>
<text x="0" y="0" font-size="7.3" font-weight="bold" text-anchor="end" fill="#111" font-family='"Liberation Sans", sans-serif' transform="translate(193.55,787.70) rotate(-45)">Hi100</text>
<line x1="29.70" y1="658.80" x2="29.70" y2="779.50" stroke="#3a3a3a" stroke-width="1.15"/>
<line x1="27.30" y1="779.50" x2="210.90" y2="779.50" stroke="#2a2a2a" stroke-width="1.15"/>
<line x1="27.10" y1="658.80" x2="29.70" y2="658.80" stroke="#333" stroke-width="1"/>
<text x="26.70" y="660.70" font-size="7.6" font-weight="bold" text-anchor="end" fill="#111" font-family='"Liberation Sans", sans-serif'>0.4</text>
<line x1="27.10" y1="689.00" x2="29.70" y2="689.00" stroke="#333" stroke-width="1"/>
<text x="26.70" y="690.90" font-size="7.6" font-weight="bold" text-anchor="end" fill="#111" font-family='"Liberation Sans", sans-serif'>0.3</text>
<line x1="27.10" y1="719.20" x2="29.70" y2="719.20" stroke="#333" stroke-width="1"/>
<text x="26.70" y="721.10" font-size="7.6" font-weight="bold" text-anchor="end" fill="#111" font-family='"Liberation Sans", sans-serif'>0.2</text>
<line x1="27.10" y1="749.30" x2="29.70" y2="749.30" stroke="#333" stroke-width="1"/>
<text x="26.70" y="751.20" font-size="7.6" font-weight="bold" text-anchor="end" fill="#111" font-family='"Liberation Sans", sans-serif'>0.1</text>
<line x1="27.10" y1="779.50" x2="29.70" y2="779.50" stroke="#333" stroke-width="1"/>
<text x="26.70" y="781.40" font-size="7.6" font-weight="bold" text-anchor="end" fill="#111" font-family='"Liberation Sans", sans-serif'>0.0</text>
<text x="329.7" y="645.2" font-size="11" font-weight="bold" text-anchor="start" fill="#111" font-family='"Liberation Sans", sans-serif' textLength="42.9" lengthAdjust="spacingAndGlyphs">PH/TBM</text>
<rect x="266.50" y="682.50" width="24.00" height="97.00" fill="#eeeeee" stroke="#333" stroke-width="1.2"/>
<line x1="278.50" y1="682.40" x2="278.50" y2="677.50" stroke="#444" stroke-width="0.95"/>
<line x1="272.50" y1="677.50" x2="284.50" y2="677.50" stroke="#333" stroke-width="1.25"/>
<text x="278.50" y="675.9" font-size="8.2" font-weight="bold" text-anchor="middle" fill="#111" font-family='"Liberation Sans", sans-serif'>a</text>
<line x1="278.50" y1="779.50" x2="278.50" y2="782.10" stroke="#333" stroke-width="1"/>
<text x="0" y="0" font-size="7.3" font-weight="bold" text-anchor="end" fill="#111" font-family='"Liberation Sans", sans-serif' transform="translate(279.80,787.70) rotate(-45)">Control</text>
<rect x="302.70" y="680.40" width="23.90" height="99.10" fill="#bebebe" stroke="#333" stroke-width="1.2"/>
<line x1="314.65" y1="680.30" x2="314.65" y2="672.80" stroke="#444" stroke-width="0.95"/>
<line x1="308.65" y1="672.80" x2="320.65" y2="672.80" stroke="#333" stroke-width="1.25"/>
<text x="314.65" y="671.4" font-size="8.2" font-weight="bold" text-anchor="middle" fill="#111" font-family='"Liberation Sans", sans-serif'>a</text>
<line x1="314.65" y1="779.50" x2="314.65" y2="782.10" stroke="#333" stroke-width="1"/>
<text x="0" y="0" font-size="7.3" font-weight="bold" text-anchor="end" fill="#111" font-family='"Liberation Sans", sans-serif' transform="translate(315.95,787.70) rotate(-45)">Hi25</text>
<rect x="338.80" y="677.60" width="23.40" height="101.90" fill="#858585" stroke="#333" stroke-width="1.2"/>
<line x1="350.50" y1="677.50" x2="350.50" y2="666.10" stroke="#444" stroke-width="0.95"/>
<line x1="344.50" y1="666.10" x2="356.50" y2="666.10" stroke="#333" stroke-width="1.25"/>
<text x="350.50" y="664.5" font-size="8.2" font-weight="bold" text-anchor="middle" fill="#111" font-family='"Liberation Sans", sans-serif'>a</text>
<line x1="350.50" y1="779.50" x2="350.50" y2="782.10" stroke="#333" stroke-width="1"/>
<text x="0" y="0" font-size="7.3" font-weight="bold" text-anchor="end" fill="#111" font-family='"Liberation Sans", sans-serif' transform="translate(351.80,787.70) rotate(-45)">Hi50</text>
<rect x="375.30" y="687.40" width="23.90" height="92.10" fill="#454545" stroke="#333" stroke-width="1.2"/>
<line x1="387.25" y1="687.30" x2="387.25" y2="678.40" stroke="#444" stroke-width="0.95"/>
<line x1="381.25" y1="678.40" x2="393.25" y2="678.40" stroke="#333" stroke-width="1.25"/>
<text x="387.25" y="676.8" font-size="8.2" font-weight="bold" text-anchor="middle" fill="#111" font-family='"Liberation Sans", sans-serif'>a</text>
<line x1="387.25" y1="779.50" x2="387.25" y2="782.10" stroke="#333" stroke-width="1"/>
<text x="0" y="0" font-size="7.3" font-weight="bold" text-anchor="end" fill="#111" font-family='"Liberation Sans", sans-serif' transform="translate(388.55,787.70) rotate(-45)">Hi75</text>
<rect x="411.10" y="683.00" width="23.90" height="96.50" fill="#262626" stroke="#333" stroke-width="1.2"/>
<line x1="423.05" y1="682.90" x2="423.05" y2="673.30" stroke="#444" stroke-width="0.95"/>
<line x1="417.05" y1="673.30" x2="429.05" y2="673.30" stroke="#333" stroke-width="1.25"/>
<text x="423.05" y="671.9" font-size="8.2" font-weight="bold" text-anchor="middle" fill="#111" font-family='"Liberation Sans", sans-serif'>a</text>
<line x1="423.05" y1="779.50" x2="423.05" y2="782.10" stroke="#333" stroke-width="1"/>
<text x="0" y="0" font-size="7.3" font-weight="bold" text-anchor="end" fill="#111" font-family='"Liberation Sans", sans-serif' transform="translate(424.35,787.70) rotate(-45)">Hi100</text>
<line x1="260.50" y1="658.80" x2="260.50" y2="779.50" stroke="#3a3a3a" stroke-width="1.15"/>
<line x1="258.10" y1="779.50" x2="442.00" y2="779.50" stroke="#2a2a2a" stroke-width="1.15"/>
<line x1="257.90" y1="658.80" x2="260.50" y2="658.80" stroke="#333" stroke-width="1"/>
<text x="257.50" y="660.70" font-size="7.6" font-weight="bold" text-anchor="end" fill="#111" font-family='"Liberation Sans", sans-serif'>0.04</text>
<line x1="257.90" y1="688.80" x2="260.50" y2="688.80" stroke="#333" stroke-width="1"/>
<text x="257.50" y="690.70" font-size="7.6" font-weight="bold" text-anchor="end" fill="#111" font-family='"Liberation Sans", sans-serif'>0.03</text>
<line x1="257.90" y1="718.90" x2="260.50" y2="718.90" stroke="#333" stroke-width="1"/>
<text x="257.50" y="720.80" font-size="7.6" font-weight="bold" text-anchor="end" fill="#111" font-family='"Liberation Sans", sans-serif'>0.02</text>
<line x1="257.90" y1="748.90" x2="260.50" y2="748.90" stroke="#333" stroke-width="1"/>
<text x="257.50" y="750.80" font-size="7.6" font-weight="bold" text-anchor="end" fill="#111" font-family='"Liberation Sans", sans-serif'>0.01</text>
<line x1="257.90" y1="779.30" x2="260.50" y2="779.30" stroke="#333" stroke-width="1"/>
<text x="257.50" y="781.20" font-size="7.6" font-weight="bold" text-anchor="end" fill="#111" font-family='"Liberation Sans", sans-serif'>0.00</text>
<text x="552.2" y="645.0" font-size="11" font-weight="bold" text-anchor="start" fill="#111" font-family='"Liberation Sans", sans-serif' textLength="51.7" lengthAdjust="spacingAndGlyphs">COH/TBM</text>
<rect x="493.50" y="676.70" width="24.40" height="102.80" fill="#eeeeee" stroke="#333" stroke-width="1.2"/>
<line x1="505.70" y1="676.60" x2="505.70" y2="670.50" stroke="#444" stroke-width="0.95"/>
<line x1="499.70" y1="670.50" x2="511.70" y2="670.50" stroke="#333" stroke-width="1.25"/>
<text x="505.70" y="668.7" font-size="8.2" font-weight="bold" text-anchor="middle" fill="#111" font-family='"Liberation Sans", sans-serif'>c</text>
<line x1="505.70" y1="779.50" x2="505.70" y2="782.10" stroke="#333" stroke-width="1"/>
<text x="0" y="0" font-size="7.3" font-weight="bold" text-anchor="end" fill="#111" font-family='"Liberation Sans", sans-serif' transform="translate(507.00,787.70) rotate(-45)">Control</text>
<rect x="529.90" y="712.50" width="23.80" height="67.00" fill="#bebebe" stroke="#333" stroke-width="1.2"/>
<line x1="541.80" y1="712.40" x2="541.80" y2="708.70" stroke="#444" stroke-width="0.95"/>
<line x1="535.80" y1="708.70" x2="547.80" y2="708.70" stroke="#333" stroke-width="1.25"/>
<text x="541.80" y="707.1" font-size="8.2" font-weight="bold" text-anchor="middle" fill="#111" font-family='"Liberation Sans", sans-serif'>b</text>
<line x1="541.80" y1="779.50" x2="541.80" y2="782.10" stroke="#333" stroke-width="1"/>
<text x="0" y="0" font-size="7.3" font-weight="bold" text-anchor="end" fill="#111" font-family='"Liberation Sans", sans-serif' transform="translate(543.10,787.70) rotate(-45)">Hi25</text>
<rect x="566.10" y="710.40" width="23.60" height="69.10" fill="#858585" stroke="#333" stroke-width="1.2"/>
<line x1="577.90" y1="710.30" x2="577.90" y2="707.50" stroke="#444" stroke-width="0.95"/>
<line x1="571.90" y1="707.50" x2="583.90" y2="707.50" stroke="#333" stroke-width="1.25"/>
<text x="577.90" y="706.3" font-size="8.2" font-weight="bold" text-anchor="middle" fill="#111" font-family='"Liberation Sans", sans-serif'>b</text>
<line x1="577.90" y1="779.50" x2="577.90" y2="782.10" stroke="#333" stroke-width="1"/>
<text x="0" y="0" font-size="7.3" font-weight="bold" text-anchor="end" fill="#111" font-family='"Liberation Sans", sans-serif' transform="translate(579.20,787.70) rotate(-45)">Hi50</text>
<rect x="602.30" y="728.80" width="23.90" height="50.70" fill="#454545" stroke="#333" stroke-width="1.2"/>
<line x1="614.25" y1="728.70" x2="614.25" y2="726.40" stroke="#444" stroke-width="0.95"/>
<line x1="608.25" y1="726.40" x2="620.25" y2="726.40" stroke="#333" stroke-width="1.25"/>
<text x="614.25" y="725.2" font-size="8.2" font-weight="bold" text-anchor="middle" fill="#111" font-family='"Liberation Sans", sans-serif'>a</text>
<line x1="614.25" y1="779.50" x2="614.25" y2="782.10" stroke="#333" stroke-width="1"/>
<text x="0" y="0" font-size="7.3" font-weight="bold" text-anchor="end" fill="#111" font-family='"Liberation Sans", sans-serif' transform="translate(615.55,787.70) rotate(-45)">Hi75</text>
<rect x="638.30" y="727.10" width="24.10" height="52.40" fill="#262626" stroke="#333" stroke-width="1.2"/>
<line x1="650.35" y1="727.00" x2="650.35" y2="719.40" stroke="#444" stroke-width="0.95"/>
<line x1="644.35" y1="719.40" x2="656.35" y2="719.40" stroke="#333" stroke-width="1.25"/>
<text x="650.35" y="718.0" font-size="8.2" font-weight="bold" text-anchor="middle" fill="#111" font-family='"Liberation Sans", sans-serif'>a</text>
<line x1="650.35" y1="779.50" x2="650.35" y2="782.10" stroke="#333" stroke-width="1"/>
<text x="0" y="0" font-size="7.3" font-weight="bold" text-anchor="end" fill="#111" font-family='"Liberation Sans", sans-serif' transform="translate(651.65,787.70) rotate(-45)">Hi100</text>
<line x1="487.50" y1="658.80" x2="487.50" y2="779.50" stroke="#3a3a3a" stroke-width="1.15"/>
<line x1="485.10" y1="779.50" x2="669.00" y2="779.50" stroke="#2a2a2a" stroke-width="1.15"/>
<line x1="484.90" y1="658.80" x2="487.50" y2="658.80" stroke="#333" stroke-width="1"/>
<text x="484.50" y="660.70" font-size="7.6" font-weight="bold" text-anchor="end" fill="#111" font-family='"Liberation Sans", sans-serif'>0.006</text>
<line x1="484.90" y1="699.30" x2="487.50" y2="699.30" stroke="#333" stroke-width="1"/>
<text x="484.50" y="701.20" font-size="7.6" font-weight="bold" text-anchor="end" fill="#111" font-family='"Liberation Sans", sans-serif'>0.004</text>
<line x1="484.90" y1="738.70" x2="487.50" y2="738.70" stroke="#333" stroke-width="1"/>
<text x="484.50" y="740.60" font-size="7.6" font-weight="bold" text-anchor="end" fill="#111" font-family='"Liberation Sans", sans-serif'>0.002</text>
<line x1="484.90" y1="779.00" x2="487.50" y2="779.00" stroke="#333" stroke-width="1"/>
<text x="484.50" y="780.90" font-size="7.6" font-weight="bold" text-anchor="end" fill="#111" font-family='"Liberation Sans", sans-serif'>0.000</text>
</svg></body></html>
